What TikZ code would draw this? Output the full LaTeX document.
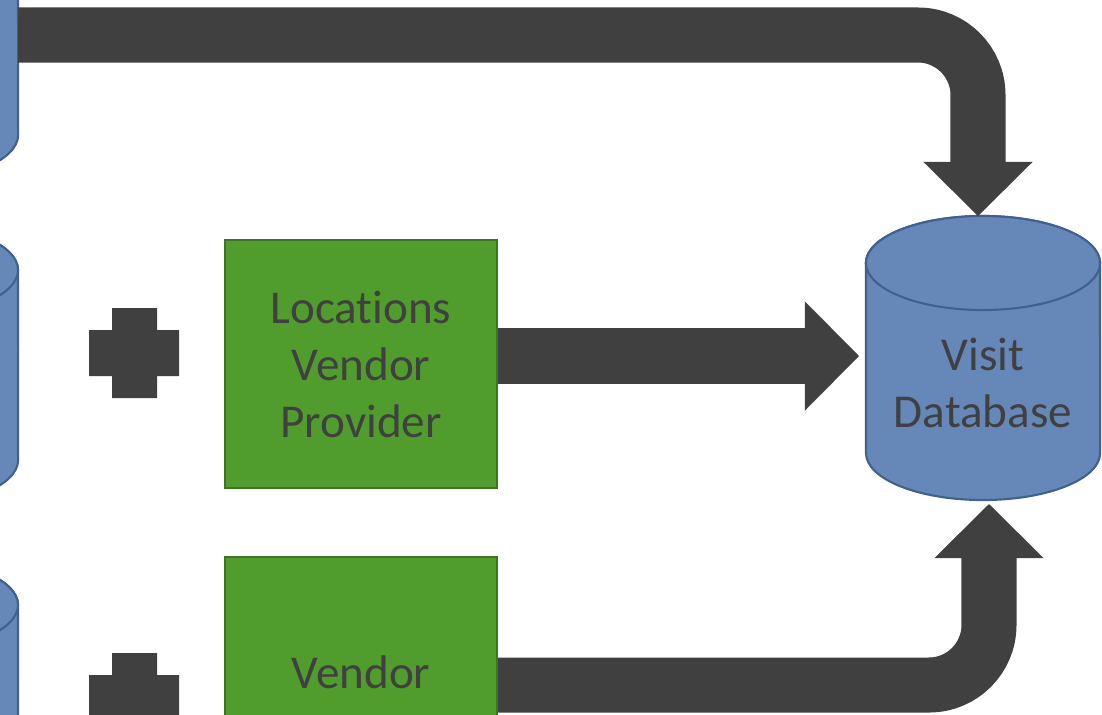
\documentclass[tikz,border=0pt]{standalone}
\usepackage{fontspec}
\setmainfont{Carlito}[Ligatures=NoCommon]
\usetikzlibrary{arrows.meta}

\definecolor{arrowgray}{RGB}{64,64,64}
\definecolor{txtgray}{RGB}{64,64,64}
\definecolor{boxgreen}{RGB}{80,157,46}
\definecolor{boxedge}{RGB}{60,118,36}
\definecolor{dbblue}{RGB}{102,136,185}
\definecolor{dbedge}{RGB}{65,96,140}

\begin{document}
\begin{tikzpicture}[x=0.01cm, y=0.01cm,
  vendorbox/.style={draw=boxedge, fill=boxgreen, line width=0.6pt,
    minimum width=2.72cm, minimum height=2.48cm, inner sep=0pt,
    align=center, text=txtgray, font=\fontsize{13.4}{16.2}\selectfont},
  dbtext/.style={align=center, text=txtgray, font=\fontsize{13.4}{16.2}\selectfont},
  db/.style={draw=dbedge, fill=dbblue, line width=0.6pt},
  flow/.style={draw=arrowgray, line width=0.55cm, rounded corners=0.6cm,
    -{Triangle[length=0.54cm, width=1.09cm, line width=0pt]}}]
  \useasboundingbox (0,0) rectangle (1102,-714);
  \clip (0,0) rectangle (1102,-714);

  % Databases
  \foreach \cx/\yt/\yb in {-99/55/-135, -99/-270/-460, -99/-605/-795, 983/-263/-453} {
    \filldraw[db] (\cx-117,\yt) -- (\cx-117,\yb)
      arc[start angle=180, end angle=360, x radius=1.17cm, y radius=0.47cm]
      -- (\cx+117,\yt)
      arc[start angle=0, end angle=180, x radius=1.17cm, y radius=0.47cm] -- cycle;
    \filldraw[db] (\cx,\yt) ellipse[x radius=1.17cm, y radius=0.47cm];
  }
  \node[dbtext] (visit) at (983,-383) {Visit\\Database};

  % Vendors
  \node[vendorbox] (locvendor) at (361,-364) {Locations\\Vendor\\Provider};
  \node[vendorbox] (vendor) at (361,-681) {};
  \node[dbtext] (vendortext) at (361,-672) {Vendor};

  % Plus signs
  \fill[arrowgray] (112,-308) rectangle (157,-398) (89,-330) rectangle (179,-376);
  \fill[arrowgray] (112,-653) rectangle (157,-743) (89,-675) rectangle (179,-721);

  % Flows into the visit database
  \coordinate (src) at (18,-35);
  \coordinate (visittop) at (978,-216);
  \coordinate (visitwest) at (859,-356);
  \coordinate (visitbot) at (989,-504);
  \coordinate (lowlane) at (0,-685);
  \draw[flow] (src) -- (visittop |- src) -- (visittop);
  \draw[flow] (locvendor.east |- visitwest) -- (visitwest);
  \draw[flow] (vendor.east |- lowlane) -- (visitbot |- lowlane) -- (visitbot);
\end{tikzpicture}
\end{document}
